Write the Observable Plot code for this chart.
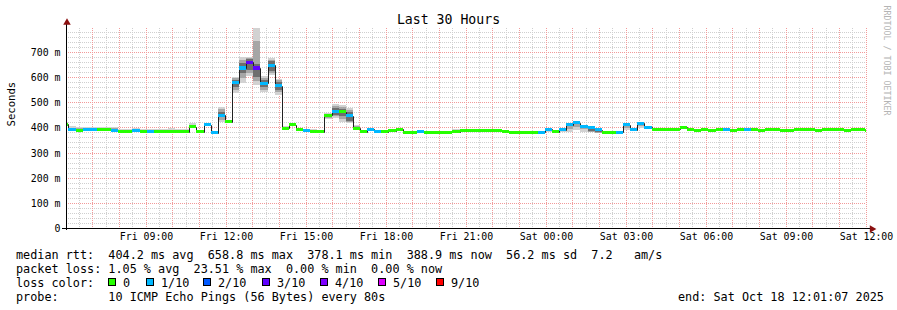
<!DOCTYPE html>
<html><head><meta charset="utf-8">
<script src="https://cdn.jsdelivr.net/npm/d3@7"></script>
<script src="https://cdn.jsdelivr.net/npm/@observablehq/plot@0.6"></script>
<style>
body{margin:0;background:#fff;}
#fig{position:relative;width:897px;height:310px;background:#fff;overflow:hidden;}
#fig svg{position:absolute;left:0;top:0;}
.leg{position:absolute;left:16px;font-family:"DejaVu Sans Mono",monospace;font-size:11.8px;line-height:14px;white-space:pre;color:#000;}
.box{position:absolute;width:6px;height:6px;border:1px solid #000;}
</style></head><body><div id="fig"></div>
<script>
// ---- time frame (RRD step = 16 min) ----
const startISO = "2025-10-17T06:01:07Z";
const endISO = "2025-10-18T12:01:07Z";
const firstStepISO = "2025-10-17T05:50:40Z";
const stepMinutes = 16;

// ---- median RTT per step (ms) ----
const median = [413,392,389,390,390,390,390,389,385,385,388,382,385,384,384,384,383,383,403,383,
410,378,448,423,578,636,659,636,575,646,565,397,411,390,386,383,383,448,463,463,
447,397,383,392,383,383,387,392,381,381,383,381,381,381,381,383,387,387,387,387,
386,386,385,381,381,381,381,381,392,383,390,410,419,403,399,390,381,381,381,410,
390,416,401,392,392,392,392,401,390,389,390,389,390,390,389,390,390,390,389,390,
390,389,389,390,390,390,389,390,390,390,389,390,390,389];
// ---- loss bucket per step (index into lossColors) ----
const loss = [0,1,0,1,1,0,0,1,0,0,1,0,1,0,0,0,0,0,0,0,
1,1,1,0,1,1,3,3,1,1,1,0,0,0,1,0,0,0,1,0,
1,0,0,1,1,0,0,0,0,0,1,0,0,0,0,0,0,0,0,0,
0,0,0,0,0,0,0,1,1,0,1,1,1,1,1,1,0,0,1,1,
1,1,1,0,0,0,0,0,0,0,0,0,0,1,0,0,1,0,0,0,
0,0,0,0,0,0,0,0,0,0,0,0,0,0];
// ---- smoke spread (ms above / below median) ----
const outerUp = [8,12,12,10,10,12,12,12,8,8,8,12,8,8,8,12,12,12,14,5,
8,5,33,5,22,44,21,200,30,30,28,8,6,6,6,10,6,10,30,26,
30,13,6,6,6,6,5,5,5,5,5,5,5,5,5,12,5,5,5,5,
5,5,5,5,5,5,5,5,5,5,5,5,5,5,5,5,5,5,5,5,
5,5,5,5,5,5,5,5,5,5,5,5,5,5,5,5,5,5,5,5,
5,5,5,8,5,5,5,5,5,5,5,5,5,5];
const outerDown = [9,3,3,3,3,3,3,3,3,3,3,3,3,3,3,3,3,3,3,3,
3,3,26,5,41,59,54,67,34,37,36,5,3,3,3,3,3,16,26,41,
29,3,3,3,3,3,3,3,3,3,3,3,3,3,3,3,3,3,3,3,
3,3,3,3,3,3,3,3,10,3,10,28,30,20,18,12,3,3,3,20,
3,19,8,3,3,3,3,3,3,3,3,3,3,3,3,3,3,3,3,3,
3,3,3,3,3,3,3,3,3,3,3,3,3,3];
const coreUp = [2,2,2,2,2,2,2,2,2,2,2,2,2,2,2,2,2,2,2,2,
2,2,14,2,12,19,13,14,15,16,15,2,2,2,2,2,2,2,15,12,
13,2,2,2,2,2,2,2,2,2,2,2,2,2,2,2,2,2,2,2,
2,2,2,2,2,2,2,2,2,2,2,2,2,2,2,2,2,2,2,2,
2,2,2,2,2,2,2,2,2,2,2,2,2,2,2,2,2,2,2,2,
2,2,2,2,2,2,2,2,2,2,2,2,2,2];
const coreDown = [2,2,2,2,2,2,2,2,2,2,2,2,2,2,2,2,2,2,2,2,
2,2,8,2,18,21,29,36,15,21,15,2,2,2,2,2,2,2,13,18,
22,2,2,2,2,2,2,2,2,2,2,2,2,2,2,2,2,2,2,2,
2,2,2,2,2,2,2,2,2,2,2,2,2,2,14,10,2,2,2,2,
2,2,2,2,2,2,2,2,2,2,2,2,2,2,2,2,2,2,2,2,
2,2,2,2,2,2,2,2,2,2,2,2,2,2];

// ---- legend / ticks ----
const lossLabels = ["0","1/10","2/10","3/10","4/10","5/10","9/10"];
const lossColors = ["#26ff00","#00b8ff","#0059ff","#5e00ff","#7e00ff","#dd00ff","#ff0000"];
const xTickTimes = ["2025-10-17T09:00Z","2025-10-17T12:00Z","2025-10-17T15:00Z","2025-10-17T18:00Z","2025-10-17T21:00Z","2025-10-18T00:00Z","2025-10-18T03:00Z","2025-10-18T06:00Z","2025-10-18T09:00Z","2025-10-18T12:00Z"];
const xTickLabels = ["Fri 09:00","Fri 12:00","Fri 15:00","Fri 18:00","Fri 21:00","Sat 00:00","Sat 03:00","Sat 06:00","Sat 09:00","Sat 12:00"];
const yTickValues = [0,100,200,300,400,500,600,700];
const yTickLabels = ["0","100 m","200 m","300 m","400 m","500 m","600 m","700 m"];
const titleText = "Last 30 Hours";
const yLabel = "Seconds";
const sideText = "RRDTOOL / TOBI OETIKER";
const statLines = [
  "median rtt:  404.2 ms avg  658.8 ms max  378.1 ms min  388.9 ms now  56.2 ms sd  7.2   am/s",
  "packet loss: 1.05 % avg  23.51 % max  0.00 % min  0.00 % now"
];
const probeLine = "probe:       10 ICMP Echo Pings (56 Bytes) every 80s";
const endLine = "end: Sat Oct 18 12:01:07 2025";

const start = new Date(startISO), end = new Date(endISO), t0 = new Date(firstStepISO);
const rows = median.map((m, j) => ({
  t1: d3.utcMinute.offset(t0, j * stepMinutes),
  t2: d3.utcMinute.offset(t0, (j + 1) * stepMinutes),
  m, c: lossColors[loss[j]],
  oLo: m - outerDown[j], oHi: m + outerUp[j],
  cLo: m - coreDown[j], cHi: m + coreUp[j]
}));
const linePts = rows.map(r => ({t: r.t1, m: r.m})).concat([{t: rows[rows.length-1].t2, m: rows[rows.length-1].m}]);
const xLab = new Map(xTickTimes.map((t, i) => [+new Date(t), xTickLabels[i]]));
const yLab = new Map(yTickValues.map((v, i) => [v, yTickLabels[i]]));

const minorX = d3.utcMinute.every(30).range(start, end);
const majorX = d3.utcHour.range(start, end);
const minorY = d3.range(20, 795, 20);
const majorY = d3.range(100, 795, 100);
const dot = "1,1";

const chart = Plot.plot({
  width: 897, height: 245,
  marginTop: 28, marginBottom: 17, marginLeft: 66, marginRight: 31,
  style: {fontFamily: "DejaVu Sans Mono", fontSize: "9.9px", color: "#000", background: "transparent", overflow: "visible"},
  x: {type: "utc", domain: [start, end], ticks: xTickTimes.map(t => new Date(t)), tickFormat: d => xLab.get(+d), tickSize: 0, tickPadding: 4, label: null, round: true},
  y: {domain: [0, 795], ticks: yTickValues, tickFormat: d => yLab.get(d), tickSize: 0, tickPadding: 6, label: null, round: true},
  color: {type: "identity"},
  marks: [
    Plot.ruleX(minorX, {stroke: "#cfcfcf", strokeDasharray: dot}),
    Plot.ruleY(minorY, {stroke: "#cfcfcf", strokeDasharray: dot}),
    Plot.ruleX(majorX, {stroke: "#f29a9a", strokeDasharray: dot}),
    Plot.ruleY(majorY, {stroke: "#f29a9a", strokeDasharray: dot}),
    Plot.rect(rows, {x1: "t1", x2: "t2", y1: "oLo", y2: "oHi", fill: "#d2d2d2", clip: true}),
    Plot.rect(rows, {x1: "t1", x2: "t2", y1: d => (d.oLo + d.cLo) / 2, y2: d => (d.oHi + d.cHi) / 2, fill: "#a6a6a6", clip: true}),
    Plot.rect(rows, {x1: "t1", x2: "t2", y1: "cLo", y2: "cHi", fill: "#6e6e6e", clip: true}),
    Plot.line(linePts, {x: "t", y: "m", curve: "step-after", stroke: "#202020", strokeWidth: 1, clip: true}),
    Plot.rect(rows, {x1: "t1", x2: "t2", y1: d => d.m - 6, y2: d => d.m + 6, fill: "c", clip: true}),
    Plot.ruleX([start], {y1: -8, y2: 815, stroke: "#000"}),
    Plot.ruleY([0], {x1: d3.utcMinute.offset(start, -10), x2: d3.utcMinute.offset(end, 12), stroke: "#000"}),
    Plot.dot([start], {x: d => d, y: () => 819, symbol: "triangle", r: 2.8, fill: "#8b1010", stroke: null, dx: 0.5}),
    Plot.dot([end], {x: d => d, y: () => 0, symbol: "triangle", rotate: 90, r: 2.8, fill: "#8b1010", stroke: null, dx: 5.5, dy: 0.5}),
    Plot.text([titleText], {frameAnchor: "top", dx: -18, dy: -9, fontSize: 13.2, lineAnchor: "middle", fill: "#000"}),
    Plot.text([yLabel], {frameAnchor: "left", dx: -55, dy: -2, rotate: -90, fontSize: 10.6, lineAnchor: "middle", fill: "#000"}),
    Plot.text([sideText], {frameAnchor: "top-right", dx: 20.5, dy: -23, rotate: 90, textAnchor: "start", fontSize: 8.3, lineAnchor: "middle", fill: "#b4b4b4"})
  ]
});
const fig = document.getElementById("fig");
fig.appendChild(chart);

function addLine(txt, top, left) {
  const d = document.createElement("div");
  d.className = "leg"; d.style.top = top + "px";
  if (left !== undefined) d.style.left = left + "px";
  d.textContent = txt; fig.appendChild(d);
}
addLine(statLines[0], 248);
addLine(statLines[1], 262);
addLine("loss color:", 276);
const boxX = [108, 146, 203, 262, 320, 378, 436];
lossLabels.forEach((lab, i) => {
  const b = document.createElement("div");
  b.className = "box"; b.style.left = boxX[i] + "px"; b.style.top = "278px"; b.style.background = lossColors[i];
  fig.appendChild(b);
  addLine(lab, 276, boxX[i] + 15);
});
addLine(probeLine, 290);
addLine(endLine, 290, 678);
</script>
</body></html>
